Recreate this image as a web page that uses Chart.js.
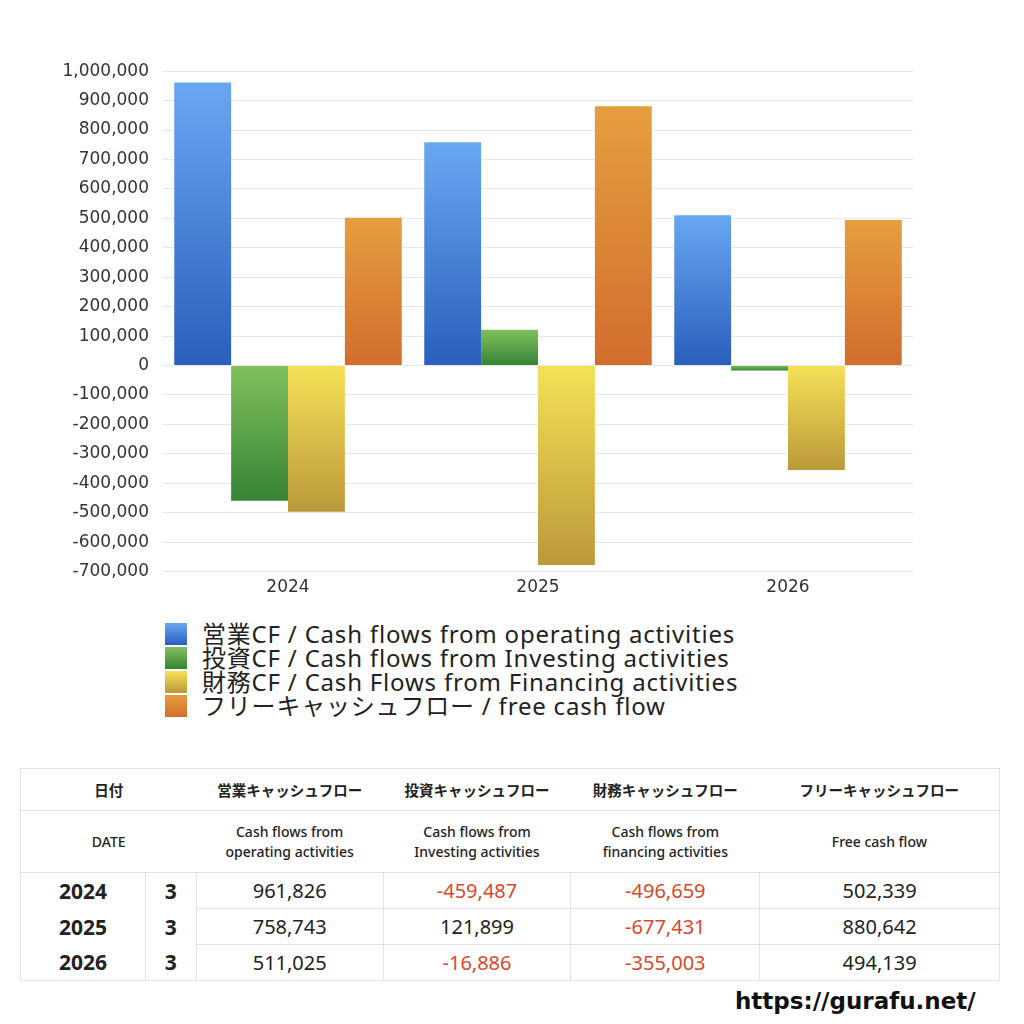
<!DOCTYPE html>
<html>
<head>
<meta charset="utf-8">
<script src="https://cdn.jsdelivr.net/npm/chart.js@4/dist/chart.umd.min.js"></script>
<style>
  body { margin: 0; width: 1024px; height: 1024px; background: #fff; position: relative;
         font-family: "Noto Sans", "Noto Sans CJK JP", sans-serif; color: #222; }
  #chartBox { position: absolute; left: 0px; top: 47px; width: 925px; height: 557px; }
  #legend { position: absolute; left: 165px; top: 622px; font-size: 24px; line-height: 24px; letter-spacing: 0.8px; }
  #legend div { display: flex; align-items: center; height: 24px; }
  #legend span.box { display: inline-block; width: 22px; height: 22px; margin-right: 15px; }
  table { position: absolute; left: 20px; top: 768px; width: 980px; border-collapse: collapse;
          border: 1px solid #e3e3e3; }
  td { text-align: center; padding: 0; }
  tr.h1 td { height: 41px; font-size: 14.5px; font-weight: bold; border-bottom: 1px solid #e3e3e3;
             font-family: "Noto Sans CJK JP", sans-serif; }
  tr.h2 td { height: 61px; font-size: 14px; font-weight: 500; line-height: 20px; border-bottom: 1px solid #e3e3e3; }
  tr.d td { height: 35px; font-size: 20px; }
  tr.d td.y { font-weight: bold; font-size: 21px; }
  tr.d td.v { border-left: 1px solid #e3e3e3; }
  tr.d td.m { border-left: 1px solid #e3e3e3; font-weight: bold; font-size: 21px; }
  tr.d.line td.v { border-bottom: 1px solid #e3e3e3; }
  .neg { color: #d9482b; }
  #url { position: absolute; left: 735px; top: 988px; font-size: 23px; font-weight: bold; color: #111;
         font-family: "DejaVu Sans", sans-serif; }
</style>
</head>
<body>
<div id="chartBox"><canvas id="cf"></canvas></div>
<div id="legend"></div>
<table id="tbl"></table>
<div id="url">https://gurafu.net/</div>
<script>
// データ
const years = ["2024", "2025", "2026"];
const months = ["3", "3", "3"];
const operatingCF = [961826, 758743, 511025];
const investingCF = [-459487, 121899, -16886];
const financingCF = [-496659, -677431, -355003];
const freeCF = [502339, 880642, 494139];

const seriesNames = [
  "営業CF / Cash flows from operating activities",
  "投資CF / Cash flows from Investing activities",
  "財務CF / Cash Flows from Financing activities",
  "フリーキャッシュフロー / free cash flow"
];
// グラデーション (上, 下)
const gradColors = [
  ["#68a7f1", "#2a5fbd"],
  ["#80c05c", "#368436"],
  ["#f5e156", "#bb993a"],
  ["#e59e3e", "#d26d2d"]
];

// 各バーごとに上→下のグラデーション
function barGradient(i) {
  return (ctx) => {
    const chart = ctx.chart;
    const y = chart.scales && chart.scales.y;
    if (!chart.chartArea || !y || ctx.raw == null) return gradColors[i][0];
    const p0 = y.getPixelForValue(0), p1 = y.getPixelForValue(ctx.raw);
    const top = Math.min(p0, p1), bottom = Math.max(p0, p1);
    if (!isFinite(top) || bottom - top < 1) return gradColors[i][1];
    const g = chart.ctx.createLinearGradient(0, top, 0, bottom);
    g.addColorStop(0, gradColors[i][0]);
    g.addColorStop(1, gradColors[i][1]);
    return g;
  };
}

const allSeries = [operatingCF, investingCF, financingCF, freeCF];
const tickFont = { size: 17, family: "DejaVu Sans" };

new Chart(document.getElementById("cf"), {
  type: "bar",
  data: {
    labels: years,
    datasets: allSeries.map((d, i) => ({
      label: seriesNames[i],
      data: d,
      backgroundColor: barGradient(i),
      categoryPercentage: 0.91,
      barPercentage: 1.0
    }))
  },
  options: {
    responsive: true,
    maintainAspectRatio: false,
    animation: false,
    layout: { padding: { top: 5, right: 12, bottom: 0, left: 0 } },
    plugins: { legend: { display: false }, tooltip: { enabled: false } },
    scales: {
      x: {
        grid: { display: false, drawTicks: false },
        border: { display: false },
        ticks: { color: "#333", font: tickFont, padding: 6 }
      },
      y: {
        min: -700000,
        max: 1000000,
        afterFit: (s) => { s.width = 163; },
        grid: { color: "#e8e8e8", drawTicks: false },
        border: { display: false },
        ticks: {
          stepSize: 100000,
          color: "#333",
          padding: 14,
          font: tickFont,
          callback: (v) => v.toLocaleString("en-US")
        }
      }
    }
  }
});

// 凡例
const legend = document.getElementById("legend");
seriesNames.forEach((n, i) => {
  const row = document.createElement("div");
  row.innerHTML = '<span class="box" style="background:linear-gradient(' + gradColors[i][0] + ',' + gradColors[i][1] + ')"></span>' + n;
  legend.appendChild(row);
});

// 表
const fmt = (v) => '<span class="' + (v < 0 ? "neg" : "") + '">' + v.toLocaleString("en-US") + "</span>";
let html = '<colgroup><col style="width:125px"><col style="width:51px"><col style="width:187px"><col style="width:188px"><col style="width:189px"><col style="width:240px"></colgroup>';
html += '<tr class="h1"><td colspan="2">日付</td><td>営業キャッシュフロー</td><td>投資キャッシュフロー</td><td>財務キャッシュフロー</td><td>フリーキャッシュフロー</td></tr>';
html += '<tr class="h2"><td colspan="2">DATE</td><td>Cash flows from<br>operating activities</td><td>Cash flows from<br>Investing activities</td><td>Cash flows from<br>financing activities</td><td>Free cash flow</td></tr>';
years.forEach((y, i) => {
  html += '<tr class="d' + (i < years.length - 1 ? " line" : "") + '"><td class="y">' + y + '</td><td class="m">' + months[i] + '</td>' +
    '<td class="v">' + fmt(operatingCF[i]) + '</td><td class="v">' + fmt(investingCF[i]) + '</td>' +
    '<td class="v">' + fmt(financingCF[i]) + '</td><td class="v">' + fmt(freeCF[i]) + '</td></tr>';
});
document.getElementById("tbl").innerHTML = html;
</script>
</body>
</html>
